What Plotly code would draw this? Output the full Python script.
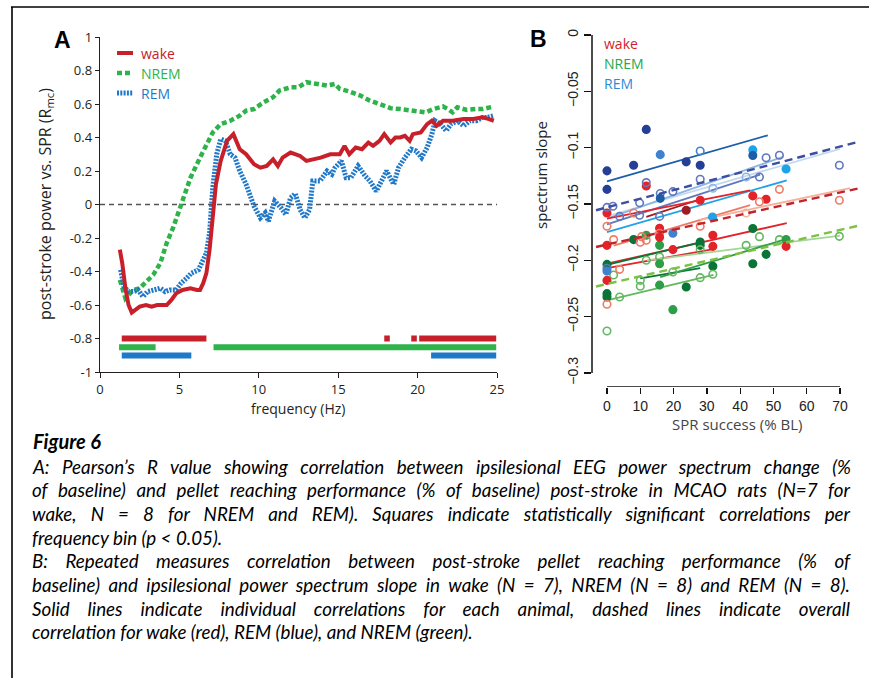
import plotly.graph_objects as go

W, H = 869, 678
def px(x): return x / W
def py(y): return 1 - y / H

# ---------------- Panel A data ----------------
wake_f = [1.25,1.4,1.6,1.8,2.0,2.2,2.5,2.9,3.25,3.6,4.2,4.5,4.8,5.2,5.7,6.1,6.3,6.5,6.7,6.9,7.1,7.3,7.6,8.0,8.4,8.8,9.2,9.7,10.1,10.5,10.9,11.2,11.5,12.0,12.6,13.0,13.9,14.5,15.1,15.4,15.7,16.1,16.5,16.9,17.2,17.6,17.9,18.3,18.6,18.9,19.2,19.5,19.7,20.2,20.6,20.9,21.2,21.6,22.2,22.9,23.5,24.1,24.5,24.8]
wake_v = [-0.27,-0.35,-0.5,-0.6,-0.645,-0.63,-0.61,-0.60,-0.61,-0.60,-0.60,-0.57,-0.53,-0.51,-0.50,-0.51,-0.51,-0.47,-0.41,-0.27,-0.04,0.12,0.26,0.38,0.42,0.33,0.30,0.24,0.22,0.23,0.27,0.23,0.28,0.31,0.29,0.26,0.28,0.30,0.30,0.35,0.30,0.34,0.33,0.37,0.35,0.38,0.42,0.37,0.40,0.40,0.41,0.38,0.42,0.43,0.48,0.50,0.47,0.50,0.50,0.51,0.51,0.52,0.51,0.50]

nrem_f = [1.25,1.4,1.6,1.8,2.1,2.5,2.9,3.35,3.8,4.2,4.6,4.9,5.2,5.7,6.3,6.7,7.1,7.6,8.2,8.8,9.2,9.7,10.3,10.9,11.3,12.0,12.5,13.0,13.6,14.3,14.8,15.1,15.7,16.4,17.0,17.6,18.3,18.9,19.5,20.2,20.5,21.0,21.6,21.9,22.2,22.5,23.1,23.7,24.1,24.8]
nrem_v = [-0.45,-0.5,-0.56,-0.54,-0.51,-0.50,-0.46,-0.42,-0.35,-0.23,-0.14,-0.06,0.02,0.16,0.28,0.36,0.43,0.48,0.50,0.53,0.56,0.57,0.61,0.64,0.68,0.70,0.70,0.73,0.72,0.71,0.72,0.69,0.675,0.65,0.62,0.60,0.575,0.57,0.565,0.557,0.55,0.57,0.585,0.57,0.55,0.58,0.565,0.57,0.57,0.585]

rem_f = [1.3,1.5,1.8,2.1,2.4,2.7,3.0,3.35,3.8,4.1,4.4,4.8,5.1,5.45,5.75,6.2,6.5,6.7,6.9,7.0,7.1,7.35,7.6,7.9,8.2,8.5,8.8,9.2,9.7,10.1,10.4,10.6,11.0,11.4,11.7,12.0,12.3,12.6,12.9,13.2,13.4,13.85,14.3,14.6,14.8,15.2,15.5,15.8,16.25,16.7,17.0,17.4,17.7,18.05,18.5,18.8,19.2,19.6,19.9,20.25,20.6,20.9,21.1,21.45,21.8,22.1,22.5,22.9,23.3,23.7,24.1,24.4,24.8]
rem_v = [-0.39,-0.49,-0.52,-0.52,-0.51,-0.55,-0.52,-0.51,-0.50,-0.52,-0.51,-0.51,-0.47,-0.44,-0.41,-0.39,-0.33,-0.29,-0.17,-0.02,0.10,0.30,0.39,0.38,0.30,0.28,0.20,0.12,-0.01,-0.08,-0.05,-0.10,0.02,-0.02,-0.06,0.04,0.065,-0.03,-0.08,-0.03,0.14,0.14,0.20,0.18,0.22,0.26,0.16,0.16,0.23,0.17,0.14,0.08,0.14,0.20,0.12,0.22,0.28,0.33,0.32,0.28,0.34,0.42,0.50,0.48,0.44,0.48,0.50,0.47,0.50,0.50,0.52,0.52,0.53]

# significant frequency bins (start, end) and row level
sig_wake = [(1.37, 6.7), (17.9, 18.25), (19.6, 19.95), (20.1, 24.95)]
sig_nrem = [(1.2, 3.5), (7.15, 24.95)]
sig_rem = [(1.37, 5.75), (20.85, 24.95)]
sig_level = {"wake": -0.80, "nrem": -0.852, "rem": -0.902}

a_xticks = [0, 5, 10, 15, 20, 25]
a_yticks = [1, 0.8, 0.6, 0.4, 0.2, 0, -0.2, -0.4, -0.6, -0.8, -1]
a_yticklabels = ["1", "0.8", "0.6", "0.4", "0.2", "0", "-0.2", "-0.4", "-0.6", "-0.8", "-1"]

# ---------------- Panel B data ----------------
# points: x (SPR success %BL), y (spectrum slope), shade index, open marker
rem_px = [0,0,11.8,8,16,23.8,28,28,43.8,43.8,47.8,51.8,53.8,11.8,28,19.8,16,16,9.8,0,1.8,3.8,9.8,15.8,31.8,41.8,45.8,69.8,31.7,19.8,0,0]
rem_py = [-0.1206,-0.137,-0.0838,-0.1156,-0.1062,-0.1126,-0.1156,-0.103,-0.102,-0.107,-0.109,-0.1067,-0.119,-0.131,-0.128,-0.139,-0.1407,-0.145,-0.149,-0.153,-0.152,-0.161,-0.160,-0.161,-0.136,-0.126,-0.126,-0.1156,-0.1615,-0.176,-0.207,-0.2095]
rem_ps = [0,0,0,0,2,0,0,2,5,1,6,6,5,6,6,6,6,1,6,6,6,6,6,6,3,3,6,6,5,2,6,2]
rem_po = [0,0,0,0,0,0,0,1,0,0,1,1,0,1,1,1,1,0,1,1,1,1,1,1,1,1,1,1,0,0,1,0]

wake_px = [11.8,51.8,69.8,43.8,47.8,45.8,0,28,23.8,0,0,0,0,2,3.8,10,10.4,11.8,15.8,15.8,15.8,19.8,28,31.8,31.8,53.8,41.8,8]
wake_py = [-0.134,-0.137,-0.1467,-0.1428,-0.1458,-0.148,-0.158,-0.1467,-0.1556,-0.1698,-0.1867,-0.2178,-0.239,-0.1816,-0.208,-0.184,-0.179,-0.1822,-0.1716,-0.176,-0.1796,-0.1905,-0.1698,-0.1778,-0.1876,-0.1876,-0.158,-0.158]
wake_ps = [1,2,2,1,1,2,1,1,0,2,1,1,2,2,2,2,2,2,1,2,1,1,2,1,1,1,3,2]
wake_po = [0,1,1,0,0,1,0,0,0,1,0,0,1,1,1,1,1,1,0,1,0,0,1,0,0,0,1,1]

nrem_px = [0,0,0,0,2,3.8,8,10,10,11.8,11.8,15.8,15.8,15.8,15.8,19.8,19.8,23.8,28,28,28,28,31.8,31.8,41.8,43.8,43.8,45.8,47.8,51.8,53.8,69.8]
nrem_py = [-0.2296,-0.2326,-0.2628,-0.2036,-0.213,-0.2326,-0.1816,-0.2178,-0.223,-0.1778,-0.2,-0.1867,-0.197,-0.203,-0.222,-0.2104,-0.2438,-0.2237,-0.1837,-0.1867,-0.1905,-0.2154,-0.2053,-0.2124,-0.1867,-0.1718,-0.203,-0.179,-0.1947,-0.1816,-0.1816,-0.1787]
nrem_ps = [0,0,2,0,2,2,0,2,2,1,2,1,2,1,1,2,1,0,0,0,2,2,0,2,2,0,0,2,0,2,1,2]
nrem_po = [0,0,1,0,1,1,0,1,1,0,1,0,1,0,0,1,0,0,0,0,1,1,0,1,1,0,0,1,0,1,0,1]

# individual fits: x0, y0, x1, y1, shade
rem_fits = [(0,-0.130,48.3,-0.089,1),(1,-0.160,70,-0.101,4),(0,-0.163,53,-0.108,3),(0,-0.168,46,-0.124,6),(0,-0.175,54,-0.129,5)]
wake_fits = [(11.8,-0.1615,27.8,-0.146,0),(0,-0.163,43,-0.138,1),(2,-0.187,43,-0.151,2),(28,-0.164,73,-0.136,3),(0,-0.203,54,-0.167,1),(0,-0.207,32,-0.190,1)]
nrem_fits = [(0,-0.204,28,-0.184,0),(12,-0.200,70,-0.178,3),(10,-0.216,28,-0.207,0),(0,-0.2356,32,-0.213,2),(16,-0.215,54,-0.181,1)]
# overall repeated-measures fits: intercept, slope
overall = {"rem": (-0.1530, 0.00077), "wake": (-0.1860, 0.00066), "nrem": (-0.2210, 0.000685)}

b_xticks = [0, 10, 20, 30, 40, 50, 60, 70]
b_yticks = [0, -0.05, -0.1, -0.15, -0.2, -0.25, -0.3]
b_yticklabels = ["0", "\u22120.05", "\u22120.1", "\u22120.15", "\u22120.2", "\u22120.25", "\u22120.3"]

caption = [
    ("A: Pearson\u2019s R value showing correlation between ipsilesional EEG power spectrum change (%", True),
    ("of baseline) and pellet reaching performance (% of baseline) post-stroke in MCAO rats (N=7 for", True),
    ("wake, N = 8 for NREM and REM). Squares indicate statistically significant correlations per", True),
    ("frequency bin (p < 0.05).", False),
    ("B: Repeated measures correlation between post-stroke pellet reaching performance (% of", True),
    ("baseline) and ipsilesional power spectrum slope in wake (N = 7), NREM (N = 8) and REM (N = 8).", True),
    ("Solid lines indicate individual correlations for each animal, dashed lines indicate overall", True),
    ("correlation for wake (red), REM (blue), and NREM (green).", False),
]

# ---------------- styles ----------------
RED, GREEN, BLUE = "#c8202a", "#2db34a", "#1f78c8"
rem_pal = ["#263f96", "#1c5fa8", "#3f82d0", "#8fb5e3", "#c4d9f0", "#1ea3e8", "#5f78bd"]
wake_pal = ["#9e1c23", "#e3232a", "#ef7a66", "#f6b19c"]
nrem_pal = ["#0b7538", "#2f9e48", "#64b860", "#a5d597"]
dash_col = {"rem": "#3b4ea2", "wake": "#c0242d", "nrem": "#7cc142"}
NREM_DASH = "5px,3px"
REM_DASH = "2px,1.3px"

fig = go.Figure()

# Panel A curves
fig.add_trace(go.Scatter(x=nrem_f, y=nrem_v, mode="lines", xaxis="x", yaxis="y",
                         line=dict(color=GREEN, width=4.5, dash=NREM_DASH), cliponaxis=False))
fig.add_trace(go.Scatter(x=rem_f, y=rem_v, mode="lines", xaxis="x", yaxis="y",
                         line=dict(color=BLUE, width=5, dash=REM_DASH), cliponaxis=False))
fig.add_trace(go.Scatter(x=wake_f, y=wake_v, mode="lines", xaxis="x", yaxis="y",
                         line=dict(color=RED, width=4), cliponaxis=False))

shapes = []
# zero line
shapes.append(dict(type="line", xref="x", yref="y", x0=0, x1=25, y0=0, y1=0,
                   line=dict(color="#555555", width=1.3, dash="5px,4px"), layer="below"))
# significance bars
for key, segs, col in (("wake", sig_wake, RED), ("nrem", sig_nrem, GREEN), ("rem", sig_rem, BLUE)):
    lv = sig_level[key]
    for s0, s1 in segs:
        shapes.append(dict(type="rect", xref="x", yref="y", x0=s0, x1=s1, y0=lv - 0.018, y1=lv + 0.018,
                           fillcolor=col, line=dict(width=0)))

# Panel B fits
for fits, pal in ((rem_fits, rem_pal), (wake_fits, wake_pal), (nrem_fits, nrem_pal)):
    for x0, y0, x1, y1, s in fits:
        fig.add_trace(go.Scatter(x=[x0, x1], y=[y0, y1], mode="lines", xaxis="x2", yaxis="y2",
                                 line=dict(color=pal[s], width=1.8)))

# Panel B points
for xs, ys, ss, os_, pal in ((nrem_px, nrem_py, nrem_ps, nrem_po, nrem_pal),
                              (wake_px, wake_py, wake_ps, wake_po, wake_pal),
                              (rem_px, rem_py, rem_ps, rem_po, rem_pal)):
    cols = [pal[s] for s in ss]
    syms = ["circle-open" if o else "circle" for o in os_]
    fig.add_trace(go.Scatter(x=xs, y=ys, mode="markers", xaxis="x2", yaxis="y2",
                             marker=dict(color=cols, symbol=syms, size=7.5, line=dict(color=cols, width=1.6))))

# Panel B overall dashed lines
xr = [-3.3, 76]
for key in ("rem", "wake", "nrem"):
    b0, b1 = overall[key]
    fig.add_trace(go.Scatter(x=xr, y=[b0 + b1 * xr[0], b0 + b1 * xr[1]], mode="lines", xaxis="x2", yaxis="y2",
                             line=dict(color=dash_col[key], width=2.4, dash="8px,5px")))

# Panel B axis lines
shapes.append(dict(type="line", xref="x2", yref="y2", x0=0, x1=70, y0=-0.31244, y1=-0.31244,
                   line=dict(color="#111111", width=1.5)))
shapes.append(dict(type="line", xref="paper", yref="y2", x0=px(592), x1=px(592), y0=-0.3, y1=0,
                   line=dict(color="#111111", width=1.5)))

# Panel A legend samples
shapes.append(dict(type="line", xref="paper", yref="paper", x0=px(117), x1=px(133), y0=py(53), y1=py(53),
                   line=dict(color=RED, width=4)))
shapes.append(dict(type="line", xref="paper", yref="paper", x0=px(117), x1=px(133), y0=py(73), y1=py(73),
                   line=dict(color=GREEN, width=4.5, dash=NREM_DASH)))
shapes.append(dict(type="line", xref="paper", yref="paper", x0=px(117), x1=px(133), y0=py(93), y1=py(93),
                   line=dict(color=BLUE, width=5, dash=REM_DASH)))

# frame
shapes.append(dict(type="line", xref="paper", yref="paper", x0=px(12), x1=px(12), y0=py(7), y1=py(690),
                   line=dict(color="#000000", width=1.6)))
shapes.append(dict(type="line", xref="paper", yref="paper", x0=px(11), x1=px(880), y0=py(7), y1=py(7),
                   line=dict(color="#000000", width=1.6)))

ann = []
def text(x, y, s, size, color="#231f20", family="Open Sans", xa="left", ya="middle", angle=0, width=None):
    d = dict(x=px(x), y=py(y), xref="paper", yref="paper", text=s, showarrow=False,
             xanchor=xa, yanchor=ya, textangle=angle,
             font=dict(size=size, color=color, family=family))
    if width is not None:
        d["width"] = width
        d["align"] = "left"
    ann.append(d)

text(62, 40, "<b>A</b>", 23, "#000000", "Liberation Sans", "center")
text(538, 39, "<b>B</b>", 23, "#000000", "Liberation Sans", "center")
text(139, 53, "wake", 14, RED)
text(139, 73, "NREM", 14, GREEN)
text(139, 93, "REM", 14, BLUE)
text(602, 43, "wake", 14, "#d2232a")
text(602, 63, "NREM", 14, "#25a84a")
text(602, 83, "REM", 14, "#2c8ad6")
text(45, 204, "post-stroke power vs. SPR (R<sub>mc</sub>)", 16, "#231f20", "Open Sans", "center", "middle", -90)
text(298, 408, "frequency (Hz)", 14, "#231f20", "Open Sans", "center")
text(541, 175, "spectrum slope", 15, "#222222", "Open Sans", "center", "middle", -90)
text(737, 424, "SPR success (% BL)", 15, "#444444", "Open Sans", "center")
text(31, 441, "<b><i>Figure 6</i></b>", 20, "#000000", "Lato")
cap_idx = []
for i, (line, just) in enumerate(caption):
    if just:
        cap_idx.append(len(ann))
    text(30, 466 + i * 23.7, "<i>" + line + "</i>", 18.8, "#000000", "Lato", width=822)

axis_font = dict(family="Open Sans", size=13, color="#231f20")
fig.update_layout(
    width=W, height=H, margin=dict(l=0, r=0, t=0, b=0, autoexpand=False),
    paper_bgcolor="white", plot_bgcolor="white", showlegend=False, hovermode=False,
    xaxis=dict(domain=[px(100), px(497)], range=[0, 25], anchor="y", tickvals=a_xticks, automargin=False,
               ticks="outside", ticklen=5, tickcolor="#231f20", showline=True, linecolor="#231f20",
               linewidth=1.3, showgrid=False, zeroline=False, tickfont=axis_font),
    yaxis=dict(domain=[py(372), py(37)], range=[-1, 1], anchor="x", tickvals=a_yticks, automargin=False,
               ticktext=a_yticklabels, ticks="outside", ticklen=4, tickcolor="#231f20",
               showline=True, linecolor="#231f20", linewidth=1.3, showgrid=False, zeroline=False,
               tickfont=axis_font),
    xaxis2=dict(domain=[px(592), px(860)], range=[-4.5, 76], anchor="y2", tickvals=b_xticks, automargin=False,
                ticks="outside", ticklen=6, tickcolor="#111111", tickwidth=1.3, showline=False,
                showgrid=False, zeroline=False,
                tickfont=dict(family="Liberation Sans", size=14, color="#222222")),
    yaxis2=dict(domain=[py(387), py(35)], range=[-0.31244, 0], anchor="x2", tickvals=b_yticks, automargin=False,
                ticktext=b_yticklabels, ticks="outside", ticklen=7, tickcolor="#111111", tickwidth=1.3,
                showline=False, showgrid=False, zeroline=False, tickangle=-90,
                tickfont=dict(family="Liberation Sans", size=14, color="#222222")),
    shapes=shapes, annotations=ann,
)

post = """
document.body.style.margin = '0';
document.body.style.padding = '0';
var gd = document.getElementById('{plot_id}');
var idx = %s;
function justify(){
  var target = 818;
  idx.forEach(function(i){
    var g = gd.querySelector('.annotation[data-index="' + i + '"] text.annotation-text');
    if(!g) return;
    g.style.wordSpacing = '0px';
    var len = g.getComputedTextLength();
    var n = (g.textContent.match(/ /g) || []).length;
    if(n > 0 && len < target){ g.style.wordSpacing = ((target - len) / n) + 'px'; }
  });
}
justify();
setTimeout(justify, 300);
""" % str(cap_idx)

fig.write_html("out.html", post_script=post, config={"displayModeBar": False, "staticPlot": True})
